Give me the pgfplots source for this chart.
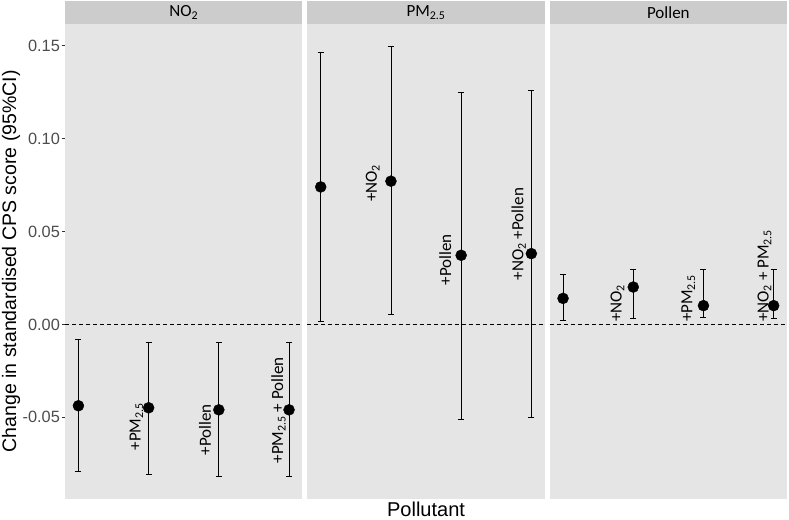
\documentclass[border=0pt]{standalone}
\usepackage{fontspec}
\setmainfont{Liberation Sans}
\newfontfamily\calfont{Carlito}
\usepackage{pgfplots}
\pgfplotsset{compat=1.18}
\usepgfplotslibrary{groupplots}
\usepackage{pgfplotstable}

\definecolor{panelgray}{RGB}{229,229,229}
\definecolor{stripgray}{RGB}{204,204,204}
\definecolor{ticktext}{RGB}{77,77,77}
\definecolor{tickline}{RGB}{51,51,51}

% x y lo hi  (estimate and 95% CI)
\pgfplotstableread{
x y lo hi
1 -0.0438 -0.0792 -0.0083
2 -0.0449 -0.0809 -0.0099
3 -0.0460 -0.0819 -0.0099
4 -0.0460 -0.0819 -0.0099
}\datano
\pgfplotstableread{
x y lo hi
1 0.0740 0.0018 0.1465
2 0.0771 0.0052 0.1499
3 0.0372 -0.0510 0.1249
4 0.0381 -0.0500 0.1260
}\datapm
\pgfplotstableread{
x y lo hi
1 0.0140 0.0022 0.0270
2 0.0201 0.0031 0.0298
3 0.0101 0.0039 0.0298
4 0.0101 0.0031 0.0298
}\datapollen

\newcommand\labfont{\calfont\fontsize{17}{19}\selectfont}
\pgfplotsset{
  est/.style={only marks, mark=*, mark size=5.5pt, black, mark options={fill=black},
    error bars/.cd, y dir=both, y explicit,
    error bar style={line width=0.8pt, black},
    error mark options={rotate=90, line width=0.8pt, mark size=3pt, black}},
}
\newcommand\strip[1]{%
  \fill[stripgray] (rel axis cs:0,1) rectangle ([yshift=23pt]rel axis cs:1,1);
  \node[font=\labfont, anchor=center] at ([yshift=11.5pt]rel axis cs:0.5,1) {#1};
  \addplot[black, line width=0.7pt, dash pattern=on 4pt off 3pt, forget plot] coordinates {(0.81,0) (4.19,0)};
}
\newcommand\plotci[1]{%
  \addplot[est] table[x=x, y=y,
    y error plus expr=\thisrow{hi}-\thisrow{y},
    y error minus expr=\thisrow{y}-\thisrow{lo}] {#1};
}

\begin{document}
\begin{tikzpicture}
\begin{groupplot}[
  group style={group size=3 by 1, horizontal sep=5pt},
  scale only axis, width=237pt, height=474pt,
  xmin=0.81, xmax=4.19, ymin=-0.0938, ymax=0.1617,
  axis background/.style={fill=panelgray},
  axis line style={draw=none},
  xtick=\empty, ytick=\empty,
  clip=false,
  tick align=outside, ytick pos=left,
  major tick length=3.5pt,
  tick style={tickline, line width=0.8pt},
  yticklabel style={font=\fontsize{16.3}{18}\selectfont, text=ticktext, inner sep=0pt, xshift=-1.5pt},
]
\nextgroupplot[ytick={-0.05,0,0.05,0.10,0.15},
  yticklabels={-0.05,0.00,0.05,0.10,0.15}]
\strip{NO\textsubscript{2}}
\plotci{\datano}
\coordinate (sw) at (rel axis cs:0,0);
\node[rotate=90, font=\fontsize{19.5}{22}\selectfont, anchor=center] at ([xshift=-54pt]rel axis cs:0,0.5) {Change in standardised CPS score (95\%CI)};
\node[rotate=90, anchor=base west, inner sep=0pt, font=\labfont] at ([xshift=-8pt]axis cs:2,-0.0679) {+PM\textsubscript{2.5}};
\node[rotate=90, anchor=base west, inner sep=0pt, font=\labfont] at ([xshift=-8pt]axis cs:3,-0.0706) {+Pollen};
\node[rotate=90, anchor=base west, inner sep=0pt, font=\labfont] at ([xshift=-6pt]axis cs:4,-0.0749) {+PM\textsubscript{2.5} + Pollen};

\nextgroupplot
\strip{PM\textsubscript{2.5}}
\plotci{\datapm}
\node[anchor=base, font=\fontsize{20}{22}\selectfont] at ([yshift=-18pt]rel axis cs:0.5,0) {Pollutant};
\node[rotate=90, anchor=base west, inner sep=0pt, font=\labfont] at ([xshift=-14pt]axis cs:2,0.0659) {+NO\textsubscript{2}};
\node[rotate=90, anchor=base west, inner sep=0pt, font=\labfont] at ([xshift=-10pt]axis cs:3,0.0210) {+Pollen};
\node[rotate=90, anchor=base west, inner sep=0pt, font=\labfont] at ([xshift=-8pt]axis cs:4,0.0237) {+NO\textsubscript{2} +Pollen};

\nextgroupplot
\strip{Pollen}
\plotci{\datapollen}
\node[rotate=90, anchor=base west, inner sep=0pt, font=\labfont] at ([xshift=-11.5pt]axis cs:2,0.0012) {+NO\textsubscript{2}};
\node[rotate=90, anchor=base west, inner sep=0pt, font=\labfont] at ([xshift=-11pt]axis cs:3,0.0012) {+PM\textsubscript{2.5}};
\node[rotate=90, anchor=base west, inner sep=0pt, font=\labfont] at ([xshift=-5pt]axis cs:4,0.0012) {+NO\textsubscript{2} + PM\textsubscript{2.5}};
\end{groupplot}
\pgfresetboundingbox
\path ([shift={(-65pt,-21pt)}]sw) rectangle ([shift={(723pt,498pt)}]sw);
\end{tikzpicture}
\end{document}
